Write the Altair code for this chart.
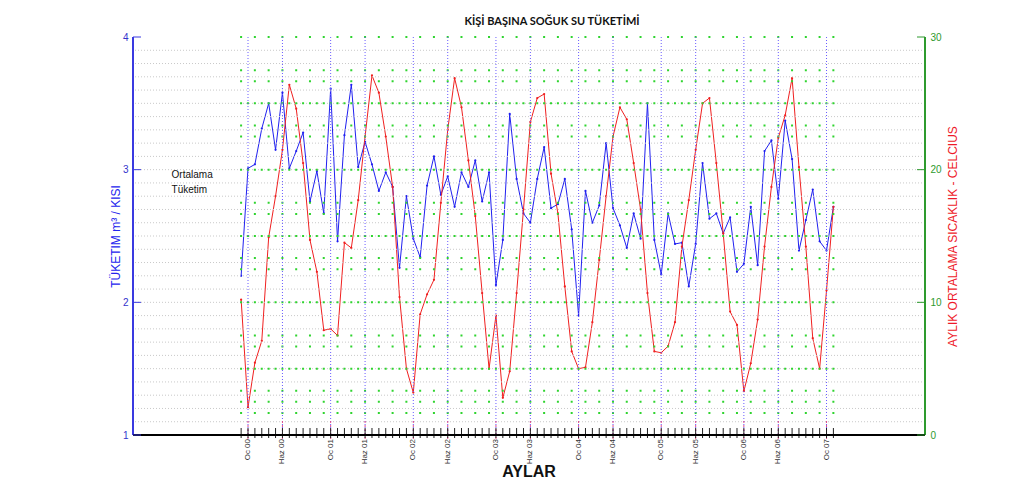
import altair as alt
import pandas as pd

# month index: 0 = Ocak (January) 2000; -1 = December 1999
months = list(range(-1, 86))

consumption = [
    2.20, 3.01, 3.04, 3.31, 3.50, 3.15, 3.58, 3.01, 3.14, 3.28, 2.76, 2.99, 2.67,
    3.61, 2.46, 3.26, 3.64, 3.02, 3.21, 3.04, 2.84, 2.98, 2.87, 2.26, 2.80,
    2.48, 2.34, 2.88, 3.10, 2.81, 2.95, 2.72, 2.98, 2.87, 3.07, 2.76, 2.98,
    2.13, 2.47, 3.42, 2.93, 2.67, 2.60, 2.93, 3.17, 2.71, 2.74, 2.93, 2.55,
    1.90, 2.84, 2.60, 2.73, 3.20, 2.71, 2.58, 2.41, 2.67, 2.48, 3.50, 2.47,
    2.21, 2.67, 2.44, 2.45, 2.12, 2.44, 3.05, 2.63, 2.67, 2.52, 2.64, 2.23,
    2.29, 2.72, 2.28, 3.14, 3.22, 2.78, 3.37, 3.08, 2.39, 2.62, 2.85, 2.46,
    2.39, 2.72,
]

temperature = [
    10.2, 2.1, 5.45, 7.1, 14.9, 18.0, 21.5, 26.4, 24.6, 20.5, 14.7, 12.3, 7.9,
    8.0, 7.5, 14.5, 14.1, 17.7, 22.5, 27.1, 25.8, 22.5, 18.7, 10.4, 5.0,
    3.2, 9.1, 10.6, 11.7, 17.5, 23.0, 26.9, 24.7, 20.7, 16.5, 10.7, 5.0,
    9.0, 2.8, 4.8, 10.7, 17.0, 23.6, 25.4, 25.7, 19.7, 16.7, 11.2, 6.3,
    5.0, 5.1, 8.5, 13.2, 18.0, 22.5, 24.7, 23.8, 20.5, 17.0, 10.7, 6.3,
    6.2, 6.7, 8.5, 14.2, 17.7, 21.5, 25.0, 25.4, 20.5, 15.2, 9.3, 8.3,
    3.3, 5.4, 8.7, 14.2, 18.7, 22.4, 24.1, 26.9, 20.2, 14.2, 7.3, 5.0,
    10.9, 17.2,
]

label_months = [0, 5, 12, 17, 24, 29, 36, 41, 48, 53, 60, 65, 72, 77, 84]
label_texts = ["Oc 00", "Haz 00", "Oc 01", "Haz 01", "Oc 02", "Haz 02", "Oc 03",
               "Haz 03", "Oc 04", "Haz 04", "Oc 05", "Haz 05", "Oc 06", "Haz 06",
               "Oc 07"]

left_ticks = [1, 2, 3, 4]
right_ticks = [0, 10, 20, 30]
left_minor = [1.1, 1.2, 1.3, 1.4, 1.5, 1.6, 1.7, 1.8, 1.9, 2.0, 2.1, 2.2, 2.3, 2.4,
              2.5, 2.6, 2.7, 2.8, 2.9, 3.0, 3.1, 3.2, 3.3, 3.4, 3.5, 3.6, 3.7, 3.8, 3.9]
green_dense = [5, 10, 15, 20, 25]
green_sparse = [1.667, 2.5, 3.333, 6.667, 7.5, 12.5, 13.333, 16.667, 17.5,
                22.5, 23.333, 26.667, 27.5, 30]

note_x = [-11.1]
note_y = [2.96]
note_text = [["Ortalama", "Tüketim"]]

df = pd.DataFrame({"m": months, "c": consumption, "t": temperature})
lab_df = pd.DataFrame({"m": label_months, "lab": label_texts})

xs = alt.Scale(domain=[-16.7, 98.3], nice=False, zero=False)
yl = alt.Scale(domain=[1, 4], nice=False, zero=False)
yr = alt.Scale(domain=[0, 30], nice=False, zero=False)

FONT = "Liberation Sans"
W, H = 792, 398

grid = alt.Chart(pd.DataFrame({"v": left_minor})).mark_rule(
    color="#c9c9c9", strokeDash=[1, 2], strokeWidth=1
).encode(y=alt.Y("v:Q", scale=yl, axis=None))

span0 = months[0] - 0.15
span1 = months[-1] + 0.3
gd = alt.Chart(pd.DataFrame({"t": green_dense, "a": span0, "b": span1})).mark_rule(
    color="#2fd42f", strokeWidth=2, strokeDash=[2, 4.887]
).encode(x=alt.X("a:Q", scale=xs, axis=None), x2="b:Q",
         y=alt.Y("t:Q", scale=yr, axis=None))
gs = alt.Chart(pd.DataFrame({"t": green_sparse, "a": span0, "b": span1})).mark_rule(
    color="#2fd42f", strokeWidth=2, strokeDash=[2, 11.774]
).encode(x=alt.X("a:Q", scale=xs, axis=None), x2="b:Q",
         y=alt.Y("t:Q", scale=yr, axis=None))

vlines = alt.Chart(lab_df).mark_rule(
    color="#6a5cff", strokeDash=[1, 2], strokeWidth=1
).encode(x=alt.X("m:Q", scale=xs, axis=None))

redmarks = alt.Chart(lab_df).mark_rule(
    color="#e0508a", strokeDash=[2, 2], strokeWidth=1
).encode(x=alt.X("m:Q", scale=xs, axis=None), y=alt.value(384), y2=alt.value(404))

mticks = alt.Chart(df).mark_rule(color="#222222", strokeWidth=1).encode(
    x=alt.X("m:Q", scale=xs, axis=None), y=alt.value(391), y2=alt.value(401)
)

# axis lines
left_line = alt.Chart(df).mark_rule(color="#3a3ae0").encode(x=alt.value(0))
right_line = alt.Chart(df).mark_rule(color="#2e9a2e").encode(x=alt.value(W))
bottom_line = alt.Chart(df).mark_rule(color="#000000").encode(
    y=alt.value(H), x=alt.value(0), x2=alt.value(W))

xlabels = alt.Chart(lab_df).mark_text(
    angle=270, align="right", baseline="middle", fontSize=8, font=FONT,
    color="#333333"
).encode(x=alt.X("m:Q", scale=xs, axis=None), y=alt.value(H + 4), text="lab:N")

xtitle = alt.Chart(pd.DataFrame({"t": ["AYLAR"]})).mark_text(
    align="center", baseline="middle", fontSize=16, fontWeight="bold",
    font=FONT, color="#111111"
).encode(x=alt.value(W / 2), y=alt.value(H + 37), text="t:N")

blue = alt.Chart(df).mark_line(
    color="#2020f0", strokeWidth=1,
    point=alt.OverlayMarkDef(color="#2020f0", size=5, filled=True)
).encode(
    x=alt.X("m:Q", scale=xs, axis=None),
    y=alt.Y("c:Q", scale=yl, axis=alt.Axis(
        orient="left", values=left_ticks, format="d", tickSize=0, grid=False,
        domain=False, labelColor="#3333cc", labelFontSize=10,
        labelFont=FONT, labelPadding=5,
        title="TÜKETIM  m³ / KISI", titleColor="#2424ee", titleFont=FONT,
        titleFontSize=12, titleFontWeight="normal", titlePadding=0)),
)

red = alt.Chart(df).mark_line(
    color="#f02020", strokeWidth=1,
    point=alt.OverlayMarkDef(color="#f02020", size=5, filled=True)
).encode(
    x=alt.X("m:Q", scale=xs, axis=None),
    y=alt.Y("t:Q", scale=yr, axis=alt.Axis(
        orient="right", values=right_ticks, format="d", tickSize=0, grid=False,
        domain=False, labelColor="#2e9a2e", labelFontSize=10,
        labelFont=FONT, labelPadding=5,
        title="AYLIK ORTALAMA SICAKLIK - CELCIUS", titleColor="#ee1a2a",
        titleFont=FONT, titleFontSize=12, titleFontWeight="normal",
        titleAngle=270, titleBaseline="top", titlePadding=6)),
)

lt = alt.Chart(pd.DataFrame({"v": left_ticks})).mark_rule(color="#3a3ae0").encode(
    y=alt.Y("v:Q", scale=yl, axis=None), x=alt.value(0), x2=alt.value(8))
rt = alt.Chart(pd.DataFrame({"v": right_ticks})).mark_rule(color="#2e9a2e").encode(
    y=alt.Y("v:Q", scale=yr, axis=None), x=alt.value(W - 8), x2=alt.value(W))

note = alt.Chart(pd.DataFrame({"x": note_x, "y": note_y, "txt": note_text})).mark_text(
    align="left", baseline="middle", fontSize=10, font=FONT, color="#111111",
    lineHeight=15
).encode(x=alt.X("x:Q", scale=xs, axis=None),
         y=alt.Y("y:Q", scale=yl, axis=None), text="txt")

chart = alt.layer(
    blue, red, grid, gd, gs, vlines, redmarks, mticks, left_line, right_line,
    bottom_line, lt, rt, xlabels, xtitle, note,
).resolve_scale(y="independent").properties(
    width=W, height=H,
    title=alt.TitleParams("KİŞİ BAŞINA SOĞUK SU TÜKETİMİ", font="Lato",
                          fontSize=11, fontWeight="bold", color="#111111",
                          anchor="middle", dx=23, offset=5),
    autosize=alt.AutoSizeParams(type="none"),
    padding={"left": 125, "top": 29, "right": 91, "bottom": 46},
).configure_view(stroke=None)

chart.save("out.html", embed_options={"renderer": "svg", "actions": False})
